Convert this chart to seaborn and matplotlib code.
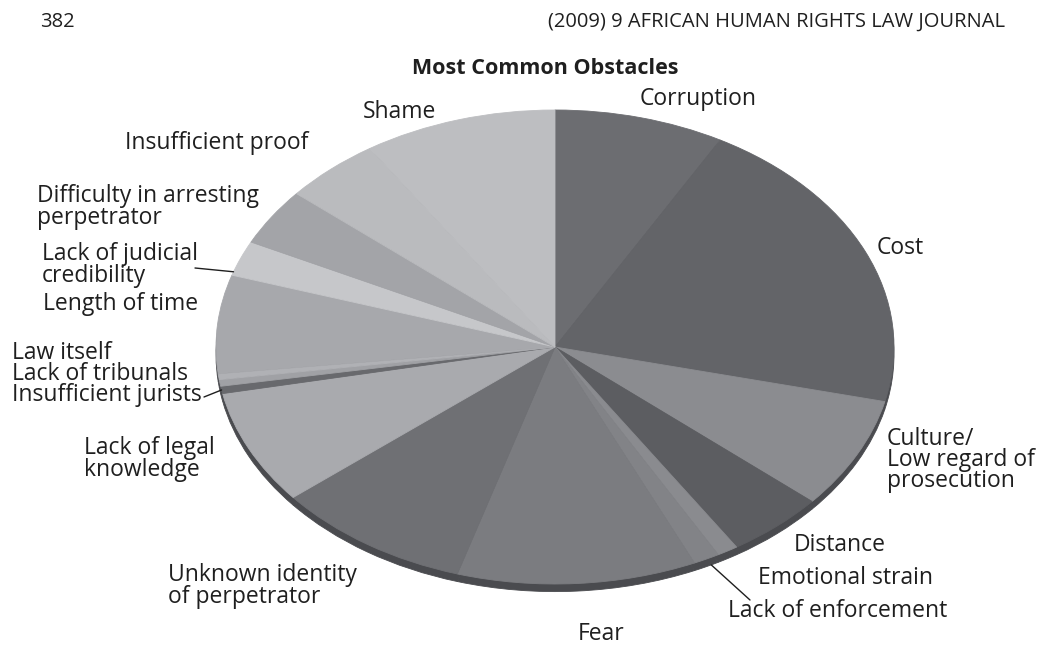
import numpy as np
import matplotlib
matplotlib.use("Agg")
import matplotlib.pyplot as plt
import seaborn as sns

# Obstacles, listed clockwise from twelve o'clock (share of responses, %)
categories = [
    "Corruption", "Cost", "Culture/\nLow regard of\nprosecution", "Distance",
    "Emotional strain", "Lack of enforcement", "Fear",
    "Unknown identity\nof perpetrator", "Lack of legal\nknowledge",
    "Insufficient jurists", "Lack of tribunals", "Law itself",
    "Length of time", "Lack of judicial\ncredibility",
    "Difficulty in arresting\nperpetrator", "Insufficient proof", "Shame",
]
shares = [8.1, 20.6, 7.6, 4.7, 1.0, 1.25, 11.4, 9.4, 7.8,
          0.5, 0.45, 0.4, 6.7, 2.4, 3.9, 4.6, 9.2]
slice_colors = [
    "#6c6d71", "#636468", "#8b8c90", "#5c5d61", "#8a8b8f", "#828387",
    "#7b7c80", "#6f7074", "#a9aaae", "#68696d", "#a0a1a5", "#b0b1b5",
    "#a7a8ac", "#c6c7ca", "#a3a4a8", "#babbbe", "#bdbec1",
]

sns.set_theme(style="white")
plt.rcParams["font.family"] = ["Open Sans", "DejaVu Sans"]

W, H = 1039, 646
fig = plt.figure(figsize=(W / 100, H / 100), dpi=100)
fig.patch.set_facecolor("white")

# full-figure axes; the pie has unit radius and is squashed vertically
cx, cy, rx, ry = 555, 347, 339, 237
ax = fig.add_axes([0, 0, 1, 1])
rim = 0.032

# darker copy slightly lower gives the thin 3D edge
edge_wedges, _ = ax.pie(shares, colors=["#4a4b4f"] * len(shares),
                        startangle=90, counterclock=False, center=(0, -rim),
                        wedgeprops=dict(linewidth=0.6))
wedges, _ = ax.pie(shares, colors=slice_colors, startangle=90,
                   counterclock=False, center=(0, 0),
                   wedgeprops=dict(linewidth=0.6))
for w in list(edge_wedges) + list(wedges):
    w.set_edgecolor(w.get_facecolor())
ax.set_aspect("auto")
ax.set_xlim(-cx / rx, (W - cx) / rx)
ax.set_ylim((cy - H) / ry, cy / ry)
ax.axis("off")

ink = "#1f1f1f"


def fx(x, y):
    return x / W, 1 - y / H


def label(text, x, y, ha="left", size=16.5, ls=0.86, **kw):
    fig.text(*fx(x, y), text, ha=ha, va="center", fontsize=size,
             color=ink, linespacing=ls, **kw)


# page header and title
label("382", 40, 22, size=14.5)
label("(2009) 9 AFRICAN HUMAN RIGHTS LAW JOURNAL", 1005, 22, ha="right",
      size=14.5)
label("Most Common Obstacles", 545, 68, ha="center", size=15.5,
      fontweight="bold")

# slice labels
positions = {
    "Corruption": (640, 99),
    "Cost": (877, 248),
    "Culture/\nLow regard of\nprosecution": (887, 460),
    "Distance": (794, 545),
    "Emotional strain": (758, 578),
    "Lack of enforcement": (728, 611),
    "Fear": (578, 634),
    "Unknown identity\nof perpetrator": (168, 586),
    "Lack of legal\nknowledge": (84, 459),
    "Length of time": (43, 304),
    "Lack of judicial\ncredibility": (42, 265),
    "Difficulty in arresting\nperpetrator": (37, 207),
    "Insufficient proof": (125, 143),
    "Shame": (363, 112),
}
for name, (x, y) in positions.items():
    label(name, x, y)

# the three thinnest slices share one stacked label block
stacked = ["Law itself", "Lack of tribunals", "Insufficient jurists"]
label("\n".join(stacked), 12, 374, ls=0.83)

# leader lines from labels to their slices
starts = 90 - 360 * np.concatenate([[0], np.cumsum(shares)[:-1]]) / 100
spans = 360 * np.array(shares) / 100
leaders = {
    "Insufficient jurists": (0.5, 0.0, (204, 397)),
    "Lack of judicial\ncredibility": (0.1, 0.0, (195, 268)),
    "Lack of enforcement": (0.3, rim, (750, 600)),
}
for name, (frac, drop, (tx, ty)) in leaders.items():
    i = categories.index(name)
    th = np.deg2rad(starts[i] - frac * spans[i])
    ax.annotate("", xy=(np.cos(th), np.sin(th) - drop), xycoords="data",
                xytext=fx(tx, ty), textcoords="figure fraction",
                arrowprops=dict(arrowstyle="-", color=ink, lw=1.0,
                                shrinkA=0, shrinkB=0))

fig.savefig("out.png", dpi=100, facecolor="white")
